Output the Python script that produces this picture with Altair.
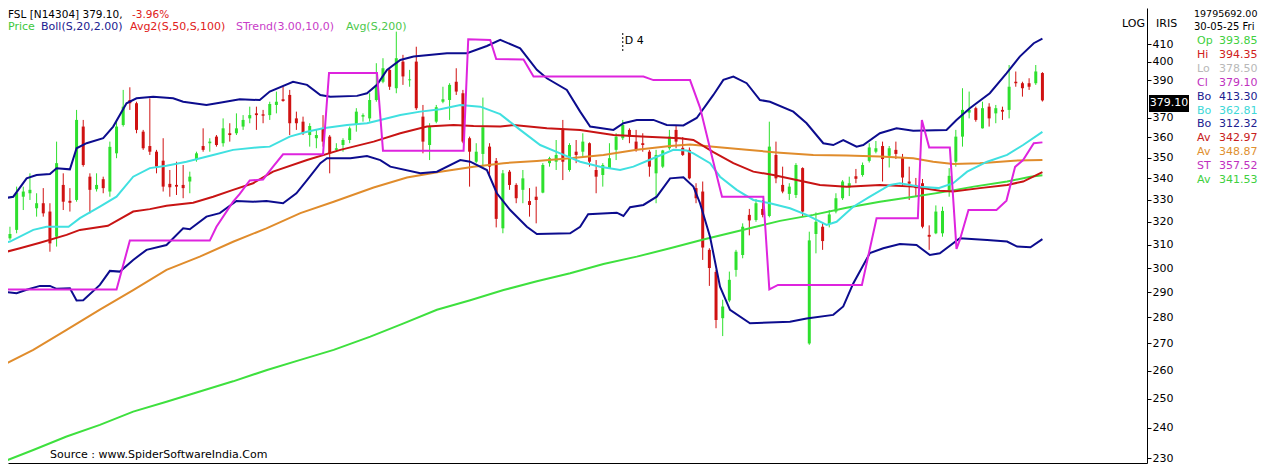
import altair as alt
import pandas as pd

FONT = "DejaVu Sans"

# ---------------- candles (daily OHLC) ----------------
open_ = [304.8, 312.7, 316.4, 331.4, 333.0, 326.1, 328.4, 324.6, 313.4, 336.9,
         329.5, 329.9, 365.5, 340.8, 334.9, 339.6, 333.8, 352.1, 366.3, 379.3,
         377.6, 362.9, 355.7, 352.9, 348.5, 337.4, 336.9, 336.9, 338.5, 348.8,
         355.7, 357.1, 360.4, 357.1, 362.1, 362.1, 365.5, 369.7, 372.3, 371.8,
         371.4, 376.7, 379.7, 382.0, 369.7, 368.0, 361.2, 359.6, 364.6, 360.4,
         353.8, 356.2, 358.7, 366.3, 370.6, 369.7, 379.3, 389.1, 395.6, 385.6,
         400.2, 389.9, 400.2, 370.6, 356.2, 368.0, 378.4, 379.3, 389.1, 382.9,
         359.6, 348.0, 351.8, 355.4, 348.4, 317.1, 343.2, 336.9, 334.6, 329.4,
         331.4, 333.3, 347.3, 348.0, 363.8, 344.0, 352.9, 352.9, 357.1, 344.0,
         341.6, 344.9, 353.8, 359.6, 363.8, 357.9, 357.1, 352.9, 342.4, 345.6,
         354.6, 363.8, 354.8, 353.8, 335.4, 333.8, 307.7, 298.4, 279.7, 286.7,
         299.2, 305.5, 323.1, 320.8, 325.8, 322.6, 351.3, 336.9, 332.7, 332.2,
         344.9, 270.0, 314.6, 317.8, 319.0, 324.6, 330.7, 335.7, 341.0, 341.6,
         348.4, 352.9, 355.7, 350.9, 353.8, 350.3, 338.5, 336.9, 337.7, 314.2,
         314.9, 314.9, 333.8, 348.0, 360.4, 372.7, 375.0, 364.6, 375.8, 372.3,
         374.1, 374.1, 389.1, 388.3, 388.3, 388.3, 393.85]
high = [316.4, 317.8, 336.1, 336.1, 342.4, 333.0, 335.4, 328.4, 357.9, 342.4,
        335.4, 374.1, 368.9, 342.4, 342.4, 340.8, 357.9, 368.9, 384.7, 386.1,
        378.4, 363.8, 380.2, 353.8, 359.6, 344.0, 348.0, 346.4, 343.2, 352.9,
        364.6, 359.6, 361.2, 369.7, 367.2, 372.3, 371.4, 375.8, 375.8, 374.1,
        378.4, 383.8, 386.4, 384.7, 373.2, 370.6, 367.2, 363.8, 371.4, 361.2,
        357.1, 359.6, 365.5, 375.0, 372.3, 382.9, 399.3, 402.1, 396.5, 417.3,
        404.0, 395.6, 408.6, 376.7, 367.2, 376.7, 386.4, 388.3, 396.5, 384.7,
        360.4, 357.1, 380.6, 357.1, 349.8, 344.0, 344.0, 337.7, 344.0, 335.4,
        336.1, 347.3, 350.4, 358.7, 368.9, 357.1, 358.7, 362.1, 357.5, 348.8,
        347.3, 357.1, 362.1, 368.9, 364.6, 363.8, 362.1, 353.8, 353.8, 353.8,
        363.8, 366.3, 360.2, 355.0, 337.7, 338.5, 308.4, 299.2, 287.0, 298.5,
        307.7, 319.3, 325.8, 330.3, 329.9, 368.0, 357.9, 345.6, 337.7, 347.3,
        345.3, 315.6, 324.2, 319.7, 325.3, 333.0, 339.2, 340.8, 344.5, 347.6,
        357.1, 358.2, 357.9, 355.7, 357.9, 351.8, 345.6, 340.2, 339.7, 318.4,
        327.4, 326.8, 344.9, 363.8, 385.6, 383.8, 375.8, 378.4, 377.6, 376.7,
        375.8, 398.3, 394.7, 389.1, 391.0, 398.3, 394.35]
low = [304.5, 312.0, 314.9, 325.3, 329.9, 322.3, 322.3, 306.9, 309.1, 325.3,
       324.6, 329.1, 345.6, 323.8, 333.8, 333.0, 331.4, 349.7, 365.5, 374.1,
       362.1, 353.8, 351.3, 342.4, 333.8, 331.4, 332.2, 330.7, 333.0, 348.0,
       352.9, 352.9, 355.4, 355.4, 357.9, 361.2, 363.8, 367.2, 363.8, 367.2,
       368.9, 372.3, 378.4, 361.2, 363.8, 361.2, 355.4, 354.6, 355.4, 342.4,
       352.9, 352.9, 357.1, 362.9, 368.0, 368.0, 378.4, 388.3, 384.7, 382.9,
       387.4, 386.4, 374.1, 352.1, 348.8, 367.2, 377.6, 368.9, 382.0, 357.1,
       336.1, 347.3, 345.5, 340.8, 317.5, 314.9, 334.6, 328.4, 328.4, 322.3,
       319.3, 333.0, 345.6, 344.0, 339.2, 343.2, 347.3, 350.4, 345.6, 333.0,
       336.1, 344.5, 348.8, 358.7, 357.1, 352.9, 352.9, 340.8, 328.4, 344.9,
       353.8, 354.6, 350.8, 339.5, 328.4, 303.4, 292.6, 275.8, 272.8, 286.0,
       296.4, 304.1, 314.0, 320.0, 322.0, 322.0, 337.7, 333.0, 329.9, 330.8,
       322.3, 269.5, 306.2, 307.7, 317.5, 323.8, 329.9, 331.7, 337.7, 340.8,
       347.6, 352.1, 338.5, 345.2, 349.3, 336.1, 329.9, 331.3, 317.1, 307.7,
       314.5, 313.4, 331.4, 345.6, 355.4, 369.7, 368.0, 364.5, 365.5, 367.2,
       368.9, 369.7, 386.4, 381.1, 384.7, 387.4, 378.5]
close = [312.0, 314.6, 333.3, 333.8, 334.6, 328.4, 323.8, 310.5, 347.3, 329.1,
         328.6, 368.9, 346.4, 334.6, 336.9, 335.4, 355.3, 365.5, 375.8, 377.6,
         363.8, 354.6, 352.9, 345.6, 336.1, 335.8, 336.1, 335.4, 340.8, 352.1,
         353.8, 357.9, 356.2, 364.6, 361.2, 364.6, 368.9, 371.4, 371.4, 371.1,
         377.2, 378.4, 378.8, 367.2, 367.2, 362.1, 365.8, 361.2, 357.9, 352.1,
         354.6, 358.7, 364.6, 373.2, 371.4, 379.3, 387.4, 396.5, 386.4, 402.1,
         392.0, 390.4, 375.0, 357.9, 365.8, 375.5, 379.7, 387.4, 383.8, 357.9,
         352.9, 352.9, 365.1, 345.6, 321.3, 342.4, 336.9, 330.7, 340.0, 327.6,
         329.9, 346.4, 349.7, 351.3, 348.0, 356.2, 351.3, 357.9, 348.0, 340.8,
         346.4, 349.7, 360.4, 366.3, 360.4, 353.8, 356.2, 345.6, 351.3, 353.5,
         360.4, 357.9, 351.3, 340.0, 330.7, 308.7, 300.0, 279.0, 284.3, 295.1,
         306.9, 317.8, 320.6, 328.4, 323.1, 355.4, 340.0, 333.8, 336.1, 346.4,
         324.6, 311.8, 320.0, 311.5, 323.3, 330.7, 338.5, 337.7, 339.8, 346.4,
         355.0, 354.6, 349.3, 354.6, 351.8, 340.4, 337.5, 335.4, 317.8, 313.4,
         324.6, 324.9, 341.2, 360.4, 374.1, 374.1, 368.9, 375.0, 369.7, 375.0,
         373.2, 386.4, 388.3, 385.6, 386.4, 394.73, 379.1]
day = list(range(len(close)))

# ---------------- indicator lines (candle index, value) ----------------
bb_up_i = [0, 1.5, 3.5, 5.0, 7.0, 8.0, 10.0, 11.0, 12.5, 15.0, 16.5, 18.5, 20.0, 22.5, 25.5,
           27.0, 30.5, 32.5, 35.5, 38.5, 40.0, 43.5, 45.6, 47.6, 49.1, 53.1, 54.6, 56.1, 57.6,
           59.6, 61.6, 66.6, 69.6, 72.6, 74.6, 77.6, 80.1, 81.6, 84.6, 86.6, 88.1, 91.6, 93.1,
           95.1, 97.6, 99.6, 102.1, 104.1, 106.6, 108.1, 109.6, 111.6, 113.6, 115.1, 118.6,
           120.6, 123.1, 124.6, 126.1, 128.1, 129.1, 131.6, 134.1, 136.6, 141.6, 143.1, 145.1,
           148.1, 150.6, 152.6, 154.7, 156]
bb_up_v = [330.6, 331.4, 340.0, 341.6, 342.1, 344.8, 344.3, 354.6, 357.1, 359.6, 365.5, 377.6,
           380.2, 381.0, 380.2, 378.4, 376.7, 377.9, 379.7, 379.3, 383.8, 389.1, 387.4, 382.0,
           381.0, 381.5, 382.9, 387.4, 395.6, 401.1, 403.0, 404.9, 404.9, 409.0, 412.5, 407.7,
           395.6, 391.0, 384.7, 373.2, 365.5, 363.8, 367.2, 368.9, 368.9, 366.3, 366.1, 369.9,
           382.0, 390.1, 391.9, 388.3, 379.3, 378.4, 373.2, 367.2, 357.1, 356.2, 358.7, 355.4,
           356.2, 362.1, 364.6, 363.4, 363.8, 368.9, 375.0, 382.9, 393.7, 403.0, 410.6, 413.30]

bb_mid_i = [0, 1.0, 4.5, 6.5, 9.8, 11.5, 14.5, 17.0, 19.5, 22.0, 24.5, 27.5, 31.5, 34.5, 38.5,
            40.0, 43.0, 45.6, 48.0, 51.6, 54.6, 56.6, 59.6, 62.6, 65.6, 68.6, 71.6, 74.6, 77.6,
            80.6, 83.6, 86.6, 89.6, 92.6, 94.6, 97.6, 100.6, 102.6, 103.6, 106.1, 107.6, 110.1,
            112.6, 115.1, 118.1, 120.6, 123.6, 125.1, 127.6, 130.1, 133.1, 134.6, 137.6, 140.4,
            142.6, 144.7, 147.7, 150.7, 153.1, 156]
bb_mid_v = [310.5, 311.3, 316.4, 317.8, 317.8, 321.6, 326.8, 331.4, 340.8, 344.9, 346.0, 348.0,
            351.3, 353.8, 355.1, 355.4, 360.4, 362.9, 364.6, 366.3, 367.2, 368.9, 371.4, 373.2,
            374.4, 376.7, 375.8, 371.9, 363.8, 356.2, 352.1, 348.0, 345.6, 344.0, 345.6, 349.7,
            353.8, 353.5, 352.1, 347.3, 340.8, 334.6, 329.9, 328.4, 326.1, 323.1, 318.6, 320.0,
            326.8, 331.4, 336.9, 337.7, 336.1, 335.4, 337.7, 343.2, 348.0, 351.3, 356.2, 362.81]

bb_lo_i = [0, 2.0, 3.5, 5.5, 7.0, 8.0, 10.0, 11.0, 12.0, 14.5, 16.0, 17.5, 19.5, 21.5, 24.5,
           27.0, 28.0, 30.5, 32.5, 35.0, 37.5, 39.5, 42.0, 44.0, 45.6, 47.6, 48.6, 52.1, 54.6,
           56.6, 58.1, 62.6, 65.1, 68.6, 70.1, 72.6, 74.1, 76.1, 78.6, 80.1, 85.1, 86.6, 87.8,
           92.1, 93.1, 94.1, 96.1, 98.1, 100.1, 102.1, 103.6, 104.6, 106.1, 107.6, 109.1, 112.1,
           118.1, 120.6, 124.6, 126.1, 127.6, 130.1, 132.1, 134.6, 137.1, 139.1, 140.6, 143.6,
           147.7, 150.7, 152.2, 154.2, 156]
bb_lo_v = [290.2, 289.6, 291.0, 292.6, 292.6, 291.4, 291.6, 286.7, 286.8, 293.0, 298.8, 298.5,
           303.4, 307.7, 309.8, 317.1, 316.7, 322.3, 323.9, 329.4, 329.1, 329.4, 328.4, 333.0,
           339.2, 347.3, 349.7, 349.7, 350.8, 348.8, 345.6, 342.4, 343.2, 348.8, 348.0, 344.0,
           333.0, 325.3, 317.8, 314.6, 314.9, 317.8, 323.4, 324.1, 322.6, 326.6, 327.6, 331.4,
           340.0, 340.5, 336.1, 328.4, 313.4, 292.3, 283.0, 277.7, 278.3, 279.6, 281.0, 284.3,
           293.6, 306.3, 308.4, 310.2, 309.8, 305.5, 306.2, 312.7, 312.0, 311.3, 309.1, 308.8,
           312.32]

avg50_i = [0, 2.5, 5.5, 9.5, 11.5, 15.7, 19.5, 22.0, 24.5, 28.5, 31.5, 34.5, 37.5, 40.5, 45.6,
           50.6, 55.6, 59.6, 63.6, 67.6, 70.6, 74.6, 76.6, 81.6, 86.6, 91.6, 96.6, 101.6, 103.6,
           106.6, 109.6, 112.6, 115.6, 119.1, 122.6, 126.6, 131.6, 136.6, 140.6, 142.6, 146.6,
           150.7, 153.1, 156]
avg50_v = [306.5, 308.4, 310.8, 314.2, 316.4, 318.2, 324.6, 325.7, 327.2, 328.6, 331.4, 334.6,
           337.7, 343.2, 348.8, 353.8, 357.9, 362.1, 365.5, 366.3, 365.8, 365.5, 366.3, 364.6,
           363.8, 361.2, 360.4, 359.6, 358.7, 352.7, 347.3, 343.2, 341.6, 339.2, 336.9, 336.1,
           336.9, 336.1, 334.2, 333.8, 335.4, 336.9, 338.5, 342.97]

avg100_i = [0, 4.5, 9.5, 14.5, 19.5, 24.5, 29.5, 34.5, 39.5, 44.6, 49.6, 55.6, 60.6, 65.6, 70.6,
            75.1, 80.1, 85.1, 90.1, 95.1, 100.1, 103.1, 106.6, 111.6, 116.6, 121.6, 126.6, 131.6,
            136.6, 139.6, 142.6, 146.6, 151.7, 156]
avg100_v = [262.0, 267.6, 275.2, 283.1, 290.9, 299.2, 304.8, 311.2, 317.1, 323.9, 329.1, 335.7,
            340.4, 343.2, 345.6, 347.3, 348.4, 349.7, 351.3, 353.8, 355.7, 356.5, 355.4, 353.8,
            352.4, 351.3, 351.0, 350.5, 349.7, 348.0, 346.9, 347.3, 348.5, 348.87]

avg200_i = [0, 4.5, 9.5, 14.5, 19.5, 24.5, 29.5, 34.5, 39.6, 44.6, 49.6, 55.1, 60.1, 65.1, 70.1,
            75.1, 80.1, 85.1, 90.1, 95.1, 100.1, 105.1, 111.6, 116.6, 121.6, 126.6, 131.6, 136.6,
            140.6, 145.7, 150.7, 154.2, 156]
avg200_v = [228.9, 232.7, 237.1, 241.0, 245.5, 248.9, 252.5, 256.1, 260.2, 263.9, 267.6, 272.6,
            277.7, 283.0, 286.8, 290.9, 294.5, 297.8, 301.7, 304.8, 308.4, 312.2, 316.8, 320.4,
            323.1, 326.3, 329.1, 331.4, 333.3, 336.1, 338.5, 340.8, 341.53]

strend_i = [0, 17.0, 19.0, 31.0, 32.0, 34.5, 35.5, 37.0, 39.0, 40.5, 42.0, 48.0, 48.9, 56.1, 57.0,
            69.1, 69.8, 73.1, 74.0, 78.1, 79.6, 96.1, 97.6, 103.1, 104.6, 106.4, 107.9, 114.1,
            115.0, 116.3, 128.9, 131.1, 137.3, 137.9, 139.0, 142.1, 143.1, 143.6, 144.9, 149.1,
            150.6, 151.9, 153.1, 154.7, 156]
strend_v = [291.1, 291.1, 311.7, 311.7, 317.8, 329.1, 332.7, 339.0, 339.5, 345.6, 351.6, 351.6,
            393.9, 393.9, 353.4, 353.4, 412.9, 412.5, 401.6, 401.4, 391.9, 391.9, 390.0, 390.0,
            375.3, 350.4, 331.4, 331.4, 291.2, 293.0, 293.0, 321.6, 321.6, 368.9, 355.0, 355.0,
            308.1, 312.0, 325.3, 325.3, 329.6, 345.5, 348.8, 357.1, 357.52]

# the 380 label sits under the last-price box, as in the reference
axis_ticks = [t for t in range(230, 411, 10) if t != 380]
marker_day = [93]
volume_total = "19795692.00"
date_label = "30-05-25 Fri"

# ---------------- colours ----------------
NAVY = "#0c0c8e"
CYAN = "#40e0e0"
RED = "#c81414"
ORANGE = "#e08c2c"
MAGENTA = "#de24de"
GREEN = "#3ee03e"
UP = "#2ee02e"
DOWN = "#d01212"

X_SCALE = alt.Scale(domain=[0.706, 171.7], nice=False, zero=False)
Y_SCALE = alt.Scale(type="log", domain=[228.5, 431.3], nice=False, zero=False)
X_AXIS = alt.Axis(title=None, labels=False, ticks=False, grid=False, domain=True,
                  domainColor="black", domainWidth=1)
Y_AXIS = alt.Axis(title=None, orient="right", values=axis_ticks, grid=False, tickSize=4,
                  tickColor="black", domainColor="black", domainWidth=1, labelFont=FONT,
                  labelFontSize=11, labelColor="black", labelPadding=1, labelOverlap=False,
                  format="d")


def X(field="i"):
    return alt.X(f"{field}:Q", scale=X_SCALE, axis=X_AXIS)


def Y(field):
    return alt.Y(f"{field}:Q", scale=Y_SCALE, axis=Y_AXIS)


candles = pd.DataFrame({"i": day, "open": open_, "high": high, "low": low, "close": close})
candles["dir"] = ["up" if c >= o else "down" for o, c in zip(open_, close)]
dir_color = alt.Color("dir:N", scale=alt.Scale(domain=["up", "down"], range=[UP, DOWN]), legend=None)

wicks = alt.Chart(candles).mark_rule(strokeWidth=1).encode(
    x=X(), y=Y("low"), y2=alt.Y2("high"), color=dir_color)
bodies = alt.Chart(candles).mark_rule(strokeWidth=3).encode(
    x=X(), y=Y("open"), y2=alt.Y2("close"), color=dir_color)


def line(xs, vs, color):
    df = pd.DataFrame({"i": xs, "v": vs})
    return alt.Chart(df).mark_line(color=color, strokeWidth=2).encode(x=X(), y=Y("v"))


one = pd.DataFrame({"k": [0]})


def label(text, x, y, color="black", size=11, align="left"):
    return alt.Chart(one).mark_text(text=text, align=align, baseline="middle", font=FONT,
                                    fontSize=size, color=color).encode(
        x=alt.value(x), y=alt.value(y))


layers = [wicks, bodies,
          line(avg200_i, avg200_v, GREEN),
          line(avg100_i, avg100_v, ORANGE),
          line(avg50_i, avg50_v, RED),
          line(bb_mid_i, bb_mid_v, CYAN),
          line(bb_up_i, bb_up_v, NAVY),
          line(bb_lo_i, bb_lo_v, NAVY),
          line(strend_i, strend_v, MAGENTA)]

# date marker "D 4"
mk = pd.DataFrame({"i": marker_day})
layers.append(alt.Chart(mk).mark_rule(color="black", strokeWidth=1, strokeDash=[2, 2]).encode(
    x=X(), y=alt.value(25), y2=alt.value(44)))
layers.append(alt.Chart(mk).mark_text(text="D 4", align="left", baseline="middle", font=FONT,
                                      fontSize=11, color="black", dx=2).encode(
    x=X(), y=alt.value(33)))

# last price box on the axis
last = pd.DataFrame({"v": [close[-1]], "lbl": [f"{close[-1]:.2f}"]})
layers.append(alt.Chart(last).mark_rule(color="black", strokeWidth=17, yOffset=3).encode(
    y=Y("v"), x=alt.value(1141), x2=alt.value(1181)))
layers.append(alt.Chart(last).mark_text(color="white", font=FONT, fontSize=11, align="center",
                                        baseline="middle", yOffset=3).encode(
    y=Y("v"), x=alt.value(1161), text="lbl:N"))

# header
pct = (close[-1] / close[-2] - 1) * 100
layers += [
    label(f"FSL [N14304]  {close[-1]:.2f},", 0, 7, "black", 10.5),
    label(f"{pct:.2f}%", 124, 7, "#e02020", 10.5),
    label("Price", 0, 19, "#3cc83c"),
    label("Boll(S,20,2.00)", 33, 19, "#202090"),
    label("Avg2(S,50,S,100)", 122, 19, "#e02020"),
    label("STrend(3.00,10,0)", 228, 19, "#c83cc8"),
    label("Avg(S,200)", 338, 19, "#4cc84c"),
    label("Source : www.SpiderSoftwareIndia.Com", 42, 447, "black"),
    label("LOG", 1114, 16, "black"),
    label("IRIS", 1148, 16, "black"),
    label(volume_total, 1186, 6, "black", 9.5),
    label(date_label, 1186, 19, "black", 10),
]

# right-hand data panel
panel = [
    ("Op", open_[-1], "#40d040"),
    ("Hi", high[-1], "#d02020"),
    ("Lo", low[-1], "#b8b8b8"),
    ("Cl", close[-1], "#c030c0"),
    ("Bo", bb_up_v[-1], "#202090"),
    ("Bo", bb_mid_v[-1], "#40d8d8"),
    ("Bo", bb_lo_v[-1], "#202090"),
    ("Av", avg50_v[-1], "#c82020"),
    ("Av", avg100_v[-1], "#e09030"),
    ("ST", strend_v[-1], "#c030c0"),
    ("Av", avg200_v[-1], "#40d040"),
]
for k, (name, val, col) in enumerate(panel):
    yy = 33 + 13.9 * k
    layers.append(label(name, 1189, yy, col))
    layers.append(label(f"{val:.2f}", 1211, yy, col))

chart = alt.layer(*layers).properties(
    width=1139, height=455,
    autosize=alt.AutoSizeParams(type="none"),
    padding={"left": 0, "top": 0, "right": 111, "bottom": 3},
).configure_view(stroke=None)

chart.save("out.html", embed_options={"renderer": "svg", "actions": False})
